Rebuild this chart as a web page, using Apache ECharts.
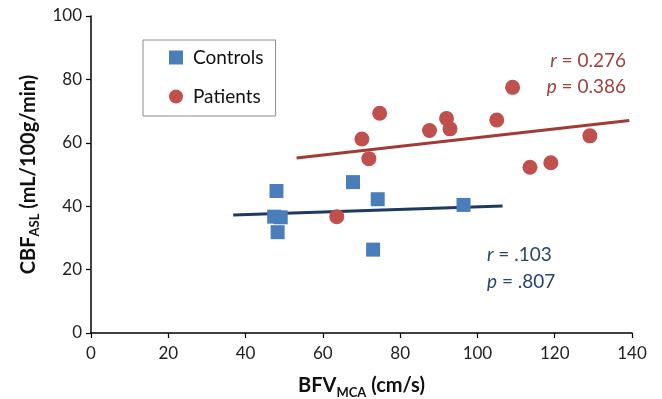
<!DOCTYPE html>
<html>
<head>
<meta charset="utf-8">
<script src="https://cdn.jsdelivr.net/npm/echarts@6/dist/echarts.min.js"></script>
<style>
  html, body { margin: 0; padding: 0; background: #fff; }
  #chart { width: 662px; height: 399px; }
</style>
</head>
<body>
<div id="chart"></div>
<script>
// BFV_MCA (cm/s) vs CBF_ASL (mL/100g/min)
const controlsX = [48.0, 47.4, 49.1, 48.3, 67.8, 74.2, 73.0, 96.4];
const controlsY = [44.8, 36.7, 36.5, 31.8, 47.6, 42.2, 26.3, 40.4];
const patientsX = [63.6, 70.1, 71.9, 74.7, 87.6, 92.0, 92.9, 105.0, 109.1, 113.6, 119.0, 129.1];
const patientsY = [36.7, 61.2, 55.0, 69.3, 63.9, 67.7, 64.4, 67.2, 77.5, 52.3, 53.7, 62.2];

// fitted lines, endpoints
const controlsFitX = [36.8, 106.5];
const controlsFitY = [37.2, 40.1];
const patientsFitX = [53.2, 139.3];
const patientsFitY = [55.2, 67.0];

const controlsStats = ['.103', '.807'];
const patientsStats = ['0.276', '0.386'];

const FONT = 'Lato, "Open Sans", sans-serif';
const BLUE = '#4a7ebb';
const RED = '#c0504d';
const NAVY = '#1f3a60';
const DARKRED = '#a23b37';
const NAVY_TEXT = '#2a4471';
const RED_TEXT = '#a3403c';

const zip = (xs, ys) => xs.map((x, i) => [x, ys[i]]);

const chart = echarts.init(document.getElementById('chart'));

const axisCommon = {
  type: 'value',
  axisLine: { show: true, lineStyle: { color: '#000', width: 1.5 } },
  axisTick: { show: true, inside: false, length: 5, lineStyle: { color: '#000', width: 1.2 } },
  axisLabel: { color: '#222', fontSize: 17, fontFamily: FONT, margin: 9 },
  splitLine: { show: false },
  nameLocation: 'middle',
  nameTextStyle: {
    rich: {
      a: { fontSize: 20, fontWeight: 'bold', fontFamily: FONT, color: '#111', lineHeight: 26 },
      b: { fontSize: 13, fontWeight: 'bold', fontFamily: FONT, color: '#111', lineHeight: 26, verticalAlign: 'bottom', padding: [7, 0, 0, 0] }
    }
  }
};

// graphic text uses zrender style keys (fill, font)
const statStyle = (text, color, align) => ({
  text: text,
  align: align,
  verticalAlign: 'middle',
  rich: {
    i: { font: 'italic 19px ' + FONT, fill: color },
    n: { font: '19px ' + FONT, fill: color }
  }
});

chart.setOption({
  animation: false,
  grid: { left: 91, right: 30, top: 16, bottom: 66, outerBoundsMode: 'none' },
  xAxis: Object.assign({}, axisCommon, {
    min: 0, max: 140, interval: 20,
    axisLabel: Object.assign({}, axisCommon.axisLabel, { margin: 12 }),
    name: '{a|BFV}{b|MCA}{a| (cm/s)}',
    nameGap: 40
  }),
  yAxis: Object.assign({}, axisCommon, {
    min: 0, max: 100, interval: 20,
    name: '{a|CBF}{b|ASL}{a| (mL/100g/min)}',
    nameRotate: 90,
    nameGap: 48
  }),
  legend: {
    orient: 'vertical',
    left: 143, top: 40,
    padding: [8, 12, 10, 26],
    itemGap: 20,
    itemWidth: 14, itemHeight: 14,
    borderColor: '#8c8c8c', borderWidth: 1,
    textStyle: { fontSize: 19, fontFamily: FONT, color: '#111', padding: [0, 0, 0, 5] },
    data: [
      { name: 'Controls', icon: 'rect' },
      { name: 'Patients', icon: 'circle' }
    ]
  },
  series: [
    {
      name: 'Controls fit', type: 'line', data: zip(controlsFitX, controlsFitY),
      symbol: 'none', lineStyle: { color: NAVY, width: 3 }, z: 1
    },
    {
      name: 'Patients fit', type: 'line', data: zip(patientsFitX, patientsFitY),
      symbol: 'none', lineStyle: { color: DARKRED, width: 3 }, z: 1
    },
    {
      name: 'Controls', type: 'scatter', data: zip(controlsX, controlsY),
      symbol: 'rect', symbolSize: 14,
      itemStyle: { color: BLUE, opacity: 1 }, z: 3
    },
    {
      name: 'Patients', type: 'scatter', data: zip(patientsX, patientsY),
      symbol: 'circle', symbolSize: 15,
      itemStyle: { color: RED, opacity: 1 }, z: 3
    }
  ],
  graphic: [
    { type: 'text', x: 626, y: 61, style: statStyle('{i|r}{n| = ' + patientsStats[0] + '}', RED_TEXT, 'right') },
    { type: 'text', x: 626, y: 87, style: statStyle('{i|p}{n| = ' + patientsStats[1] + '}', RED_TEXT, 'right') },
    { type: 'text', x: 487, y: 255, style: statStyle('{i|r}{n| = ' + controlsStats[0] + '}', NAVY_TEXT, 'left') },
    { type: 'text', x: 487, y: 282, style: statStyle('{i|p}{n| = ' + controlsStats[1] + '}', NAVY_TEXT, 'left') }
  ]
});
</script>
</body>
</html>
